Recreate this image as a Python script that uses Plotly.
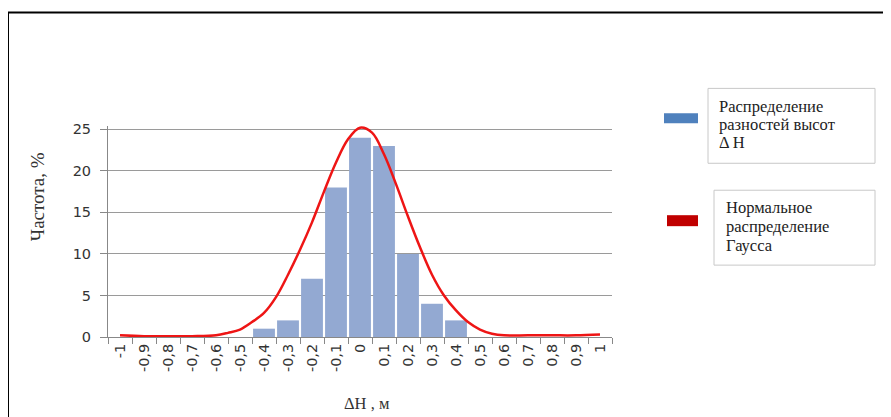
import plotly.graph_objects as go

# ---- data ----
categories = ["-1", "-0,9", "-0,8", "-0,7", "-0,6", "-0,5", "-0,4", "-0,3", "-0,2", "-0,1",
              "0", "0,1", "0,2", "0,3", "0,4", "0,5", "0,6", "0,7", "0,8", "0,9", "1"]
freq = [0, 0, 0, 0, 0, 0, 1, 2, 7, 18, 24, 23, 10, 4, 2, 0, 0, 0, 0, 0, 0]

gauss_x = [-1.0, -0.9, -0.8, -0.7, -0.6, -0.55, -0.5, -0.45, -0.4, -0.35, -0.3, -0.25, -0.2,
           -0.15, -0.1, -0.05, 0.0, 0.05, 0.1, 0.15, 0.2, 0.25, 0.3, 0.35, 0.4, 0.45, 0.5,
           0.55, 0.6, 0.7, 0.8, 0.9, 1.0]
gauss_y = [0.2, 0.1, 0.1, 0.1, 0.2, 0.5, 0.9, 1.8, 2.9, 4.8, 7.5, 10.5, 13.8,
           17.5, 21.0, 23.8, 25.2, 24.6, 22.0, 18.4, 14.5, 10.8, 7.5, 5.0, 3.2, 1.8, 0.9,
           0.4, 0.2, 0.2, 0.2, 0.2, 0.3]

y_ticks = [0, 5, 10, 15, 20, 25]
y_title = "Частота, %"
x_title = "ΔH , м"
legend1_lines = ["Распределение", "разностей высот", "Δ H"]
legend2_lines = ["Нормальное", "распределение", "Гаусса"]

# ---- layout geometry (page pixels; the page body adds an 8px offset) ----
OFF = 8
W, H = 891 - OFF, 417 - OFF
L, R = 108 - OFF, 612 - OFF
YMAX = 25.4
B = 337 - OFF
T = B - YMAX * 8.32


def px(x):
    return (x - OFF - L) / (R - L)


def py(y):
    return (B - (y - OFF)) / (B - T)


fig = go.Figure()
fig.add_trace(go.Bar(x=categories, y=freq, marker=dict(color="#93a9d2", line=dict(width=0)),
                     showlegend=False, xaxis="x", yaxis="y"))
fig.add_trace(go.Scatter(x=gauss_x, y=gauss_y, mode="lines", line=dict(color="#ee1515", width=2.5,
                         shape="spline", smoothing=1.0), showlegend=False, xaxis="x2", yaxis="y"))

tick_font = dict(family="DejaVu Sans, Verdana, sans-serif", size=14.5, color="#333333")
serif = "Liberation Serif"

fig.update_layout(
    width=W, height=H,
    margin=dict(l=L, r=W - R, t=T, b=H - B, pad=0),
    paper_bgcolor="white", plot_bgcolor="white",
    bargap=0.09,
    xaxis=dict(type="category", categoryorder="array", categoryarray=categories,
               tickson="boundaries", ticks="outside", ticklen=6, tickcolor="#888888",
               tickangle=-90, tickfont=tick_font, showgrid=False,
               showline=True, linecolor="#888888", linewidth=1,
               range=[-0.5, 20.5], fixedrange=True, automargin=False),
    xaxis2=dict(type="linear", overlaying="x", range=[-1.05, 1.05], visible=False,
                fixedrange=True),
    yaxis=dict(range=[0, YMAX], tickvals=y_ticks, ticks="outside", ticklen=7,
               tickcolor="#888888", tickfont=tick_font, showgrid=True,
               gridcolor="#9a9a9a", gridwidth=1, showline=True, linecolor="#888888",
               linewidth=1, zeroline=False, fixedrange=True, automargin=False,
               ticklabelstandoff=6),
    font=dict(family=serif, size=14, color="#222222"),
)

shapes = []
# outer frame
shapes.append(dict(type="rect", xref="paper", yref="paper",
                   x0=px(8), x1=px(910), y0=py(440), y1=py(12),
                   line=dict(color="black", width=2), fillcolor="rgba(0,0,0,0)", layer="below"))
# legend boxes
shapes.append(dict(type="rect", xref="paper", yref="paper",
                   x0=px(708), x1=px(875), y0=py(163), y1=py(88),
                   line=dict(color="#c8c8c8", width=1), fillcolor="white"))
shapes.append(dict(type="rect", xref="paper", yref="paper",
                   x0=px(714), x1=px(875), y0=py(265), y1=py(190),
                   line=dict(color="#c8c8c8", width=1), fillcolor="white"))
# legend swatches
shapes.append(dict(type="rect", xref="paper", yref="paper",
                   x0=px(664), x1=px(698), y0=py(123), y1=py(113),
                   line=dict(width=0), fillcolor="#4f81bd"))
shapes.append(dict(type="rect", xref="paper", yref="paper",
                   x0=px(667), x1=px(698), y0=py(226), y1=py(215),
                   line=dict(width=0), fillcolor="#c00000"))
fig.update_layout(shapes=shapes)

annotations = [
    dict(text=y_title, xref="paper", yref="paper", x=px(37), y=py(197), textangle=-90,
         showarrow=False, xanchor="center", yanchor="middle",
         font=dict(family=serif, size=19, color="#333333")),
    dict(text=x_title, xref="paper", yref="paper", x=px(367), y=py(404),
         showarrow=False, xanchor="center", yanchor="middle",
         font=dict(family=serif, size=16.5, color="#333333")),
]
for i, line in enumerate(legend1_lines):
    annotations.append(dict(text=line, xref="paper", yref="paper", x=px(717), y=py(106.5 + 18 * i),
                            showarrow=False, xanchor="left", yanchor="middle", align="left",
                            font=dict(family=serif, size=16.5, color="#222222")))
for i, line in enumerate(legend2_lines):
    annotations.append(dict(text=line, xref="paper", yref="paper", x=px(724), y=py(207 + 19 * i),
                            showarrow=False, xanchor="left", yanchor="middle", align="left",
                            font=dict(family=serif, size=16.5, color="#222222")))
fig.update_layout(annotations=annotations)

fig.write_html("out.html")
